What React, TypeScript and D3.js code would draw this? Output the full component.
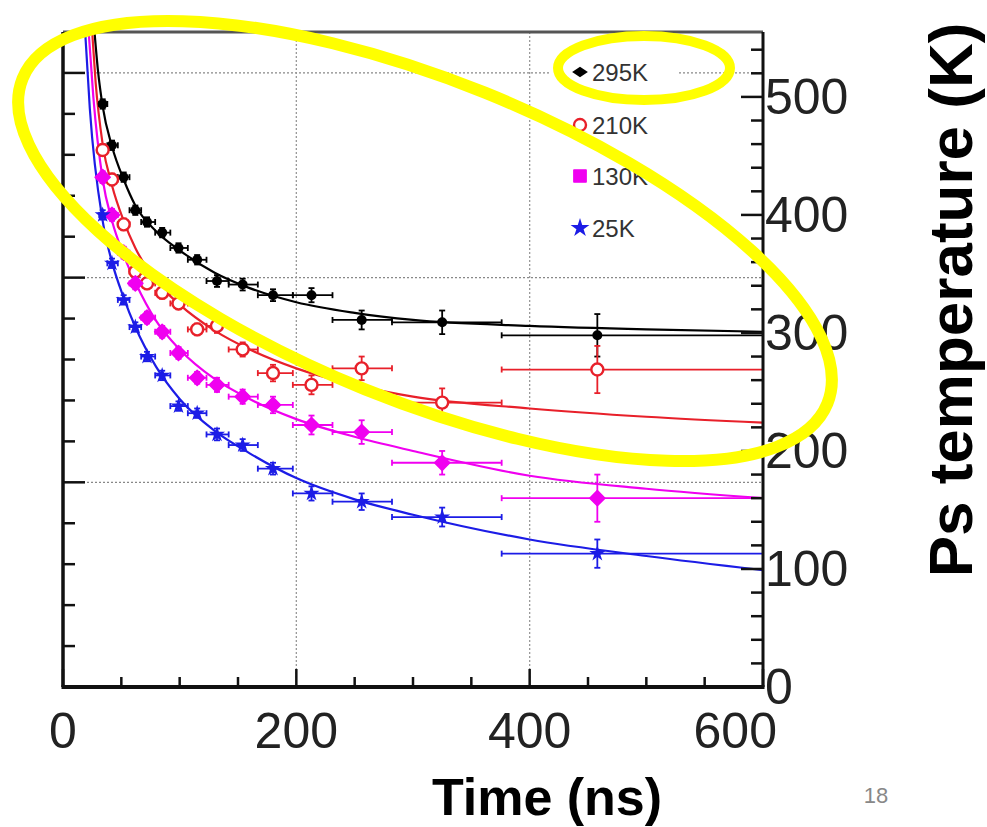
import React from "react";
import * as d3 from "d3";

// ---- data ----
const binCenters = [34, 42, 52, 62, 72, 85, 99, 115, 132, 154, 180, 213, 256, 325, 458];
const binLo = [31, 38, 47, 57, 67, 79, 92, 107, 123, 142, 167, 197, 231, 282, 376];
const binHi = [38, 47, 57, 67, 79, 92, 107, 123, 142, 167, 197, 231, 282, 376, 600];

const seriesNames = ["295K", "210K", "130K", "25K"];

const temp295 = [494, 459, 432, 404, 394, 385, 372, 362, 344, 341, 332, 332, 311, 309, 298];
const err295 = [4, 4, 4, 4, 4, 4, 4, 4, 5, 5, 5, 6, 8, 10, 18];
const temp210 = [455, 430, 392, 352, 342, 334, 325, 303, 306, 286, 266, 256, 270, 241, 269];
const err210 = [5, 5, 5, 5, 5, 5, 5, 5, 6, 6, 7, 8, 10, 12, 20];
const temp130 = [432, 400, 368, 342, 313, 301, 283, 262, 256, 246, 239, 222, 216, 190, 160];
const err130 = [5, 5, 5, 5, 5, 5, 5, 5, 6, 6, 7, 8, 10, 10, 20];
const temp25 = [400, 359, 328, 305, 280, 264, 238, 232, 214, 205, 185, 164, 157, 144, 113];
const err25 = [4, 4, 4, 4, 4, 4, 4, 4, 5, 5, 5, 6, 7, 8, 12];

// fit curves
const fit295T = [27, 30, 34, 42, 52, 62, 80, 100, 130, 160, 200, 250, 300, 400, 500, 600];
const fit295V = [555, 522, 492, 458, 430, 408, 386, 370, 351, 338, 326, 317, 311, 306, 303, 301];
const fit210T = [25, 28, 34, 42, 52, 62, 80, 100, 130, 160, 200, 250, 300, 400, 500, 600];
const fit210V = [555, 512, 460, 425, 395, 372, 344, 324, 302, 286, 270, 256, 246, 236, 229, 224];
const fit130T = [22, 26, 34, 42, 52, 62, 80, 100, 130, 160, 200, 250, 300, 400, 500, 600];
const fit130V = [555, 500, 430, 395, 366, 343, 310, 286, 261, 244, 227, 212, 200, 179, 168, 160];
const fit25T = [19, 23, 34, 42, 52, 62, 80, 100, 130, 160, 200, 250, 300, 400, 500, 600];
const fit25V = [555, 490, 395, 360, 330, 305, 271, 244, 217, 198, 177, 159, 146, 125, 111, 99];

const xTickLabels = [0, 200, 400, 600];
const yTickLabels = [0, 100, 200, 300, 400, 500];

// ---- layout ----
const W = 987;
const H = 827;
const L = 63, R = 763, T = 32, B = 687;
const FONT = "'Liberation Sans', Arial, Helvetica, sans-serif";

const x = d3.scaleLinear().domain([0, 600]).range([L, R]);
const yR = d3.scaleLinear().domain([0, 555]).range([B, T]);
const yL = d3.scaleLinear().domain([0, 3.2]).range([B, T]);

const colors = ["#000000", "#e8202a", "#f000f0", "#1c1ce6"];
const values = [temp295, temp210, temp130, temp25];
const errs = [err295, err210, err130, err25];
const fitsT = [fit295T, fit210T, fit130T, fit25T];
const fitsV = [fit295V, fit210V, fit130V, fit25V];

function Marker({ kind, cx, cy, color, legend }: { kind: number; cx: number; cy: number; color: string; legend?: boolean }) {
  if (kind === 0) {
    if (legend) {
      const p = d3.symbol().type(d3.symbolDiamond2).size(70)()!;
      return <path d={p} transform={`translate(${cx},${cy}) scale(1.5,1)`} fill={color} />;
    }
    return <circle cx={cx} cy={cy} r={5} fill={color} />;
  }
  if (kind === 1) {
    return <circle cx={cx} cy={cy} r={6} fill="#fff" stroke={color} strokeWidth={2.4} />;
  }
  if (kind === 2) {
    const p = d3.symbol().type(d3.symbolSquare).size(legend ? 150 : 115)()!;
    return <path d={p} transform={`translate(${cx},${cy})${legend ? "" : " rotate(45)"}`} fill={color} strokeLinejoin="round" stroke={color} strokeWidth={1.5} />;
  }
  const p = d3.symbol().type(d3.symbolStar).size(legend ? 110 : 80)()!;
  return <path d={p} transform={`translate(${cx},${cy})`} fill={color} />;
}

export default function App() {
  const line = d3
    .line<[number, number]>()
    .x((d) => x(d[0]))
    .y((d) => yR(d[1]))
    .curve(d3.curveMonotoneX);

  const bottomTicks = d3.range(0, 601, 50);
  const leftTicks = d3.range(0, 16).map((i) => i * 0.2);
  const rightTicks = d3.range(0, 555, 20);

  return (
    <div style={{ position: "absolute", left: 0, top: 0, width: W, height: H, background: "#fff" }}>
      <svg width={W} height={H} style={{ display: "block" }}>
        <defs>
          <clipPath id="plotclip">
            <rect x={L} y={T} width={R - L} height={B - T} />
          </clipPath>
        </defs>
        <rect x={0} y={0} width={W} height={H} fill="#fff" />

        {/* grid */}
        {[1, 2, 3].map((v) => (
          <line key={"hg" + v} x1={L} x2={R} y1={yL(v)} y2={yL(v)} stroke="#888" strokeWidth={1.3} strokeDasharray="2,2" />
        ))}
        {[200, 400].map((v) => (
          <line key={"vg" + v} x1={x(v)} x2={x(v)} y1={T} y2={B} stroke="#999" strokeWidth={1.3} strokeDasharray="2,2" />
        ))}

        {/* legend background */}
        <rect x={550} y={55} width={127} height={190} fill="#fff" />

        <g clipPath="url(#plotclip)">
          {/* fit curves */}
          {fitsT.map((ts, si) => (
            <path
              key={"fit" + si}
              d={line(ts.map((t, i) => [t, fitsV[si][i]] as [number, number]))!}
              fill="none"
              stroke={colors[si]}
              strokeWidth={2.2}
            />
          ))}
          {/* error bars */}
          {values.map((vals, si) => (
            <g key={"eb" + si} stroke={colors[si]} strokeWidth={1.8}>
              {vals.map((v, i) => {
                const cy = yR(v);
                const x1 = x(binLo[i]);
                const x2 = x(binHi[i]);
                const ylo = yR(v - errs[si][i]);
                const yhi = yR(v + errs[si][i]);
                const cx = x(binCenters[i]);
                return (
                  <g key={i}>
                    <line x1={x1} x2={x2} y1={cy} y2={cy} />
                    <line x1={x1} x2={x1} y1={cy - 3} y2={cy + 3} />
                    <line x1={x2} x2={x2} y1={cy - 3} y2={cy + 3} />
                    <line x1={cx} x2={cx} y1={ylo} y2={yhi} />
                    <line x1={cx - 3} x2={cx + 3} y1={ylo} y2={ylo} />
                    <line x1={cx - 3} x2={cx + 3} y1={yhi} y2={yhi} />
                  </g>
                );
              })}
            </g>
          ))}
          {/* markers */}
          {values.map((vals, si) => (
            <g key={"mk" + si}>
              {vals.map((v, i) => (
                <Marker key={i} kind={si} cx={x(binCenters[i])} cy={yR(v)} color={colors[si]} />
              ))}
            </g>
          ))}
        </g>

        {/* legend */}
        {seriesNames.map((name, i) => {
          const cy = [72, 125, 176, 228][i];
          return (
            <g key={"lg" + i}>
              <Marker kind={i} cx={580} cy={cy} color={colors[i]} legend />
              <text x={592} y={cy} dominantBaseline="central" fontFamily={FONT} fontSize={24} fill="#333">
                {name}
              </text>
            </g>
          );
        })}

        {/* frame & axes */}
        <line x1={L} x2={R} y1={T} y2={T} stroke="#555" strokeWidth={3} />
        <line x1={L} x2={L} y1={T} y2={B} stroke="#111" strokeWidth={3.5} />
        <line x1={R} x2={R} y1={T} y2={B} stroke="#111" strokeWidth={3} />
        <line x1={L - 1.5} x2={R + 1.5} y1={B} y2={B} stroke="#111" strokeWidth={4} />

        {bottomTicks.map((v) => (
          <line key={"bt" + v} x1={x(v)} x2={x(v)} y1={B} y2={B - (v % 200 === 0 ? 18 : 10)} stroke="#111" strokeWidth={2.5} />
        ))}
        {leftTicks.map((v) => {
          const major = Math.abs(v - Math.round(v)) < 1e-6;
          return <line key={"lt" + v} x1={L} x2={L + (major ? 22 : 12)} y1={yL(v)} y2={yL(v)} stroke="#111" strokeWidth={2.5} />;
        })}
        {rightTicks.map((v) => (
          <line key={"rt" + v} x1={R} x2={R - (v % 100 === 0 ? 22 : 12)} y1={yR(v)} y2={yR(v)} stroke="#111" strokeWidth={2.5} />
        ))}

        {/* tick labels */}
        {xTickLabels.map((v, i) => (
          <text
            key={"xl" + v}
            x={i === xTickLabels.length - 1 ? x(v) + 14 : x(v)}
            y={748}
            textAnchor={i === xTickLabels.length - 1 ? "end" : "middle"}
            fontFamily={FONT}
            fontSize={50}
            fill="#222"
          >
            {v}
          </text>
        ))}
        {yTickLabels.map((v) => (
          <text key={"yl" + v} x={765} y={yR(v)} dominantBaseline="central" fontFamily={FONT} fontSize={50} fill="#222">
            {v}
          </text>
        ))}

        {/* axis titles */}
        <text x={547} y={815} textAnchor="middle" fontFamily={FONT} fontWeight="bold" fontSize={52} fill="#000">
          Time (ns)
        </text>
        <text
          transform="translate(972,300) rotate(-90)"
          textAnchor="middle"
          fontFamily={FONT}
          fontWeight="bold"
          fontSize={62}
          fill="#000"
        >
          Ps temperature (K)
        </text>
        <text x={876} y={803} textAnchor="middle" fontFamily={FONT} fontSize={22} fill="#888">
          18
        </text>

        {/* yellow annotation ellipses */}
        <ellipse cx={425} cy={241} rx={434} ry={160} transform="rotate(22 425 241)" fill="none" stroke="#ffff00" strokeWidth={12} />
        <ellipse cx={644} cy={68} rx={86} ry={32} fill="none" stroke="#ffff00" strokeWidth={10} />
      </svg>
    </div>
  );
}
